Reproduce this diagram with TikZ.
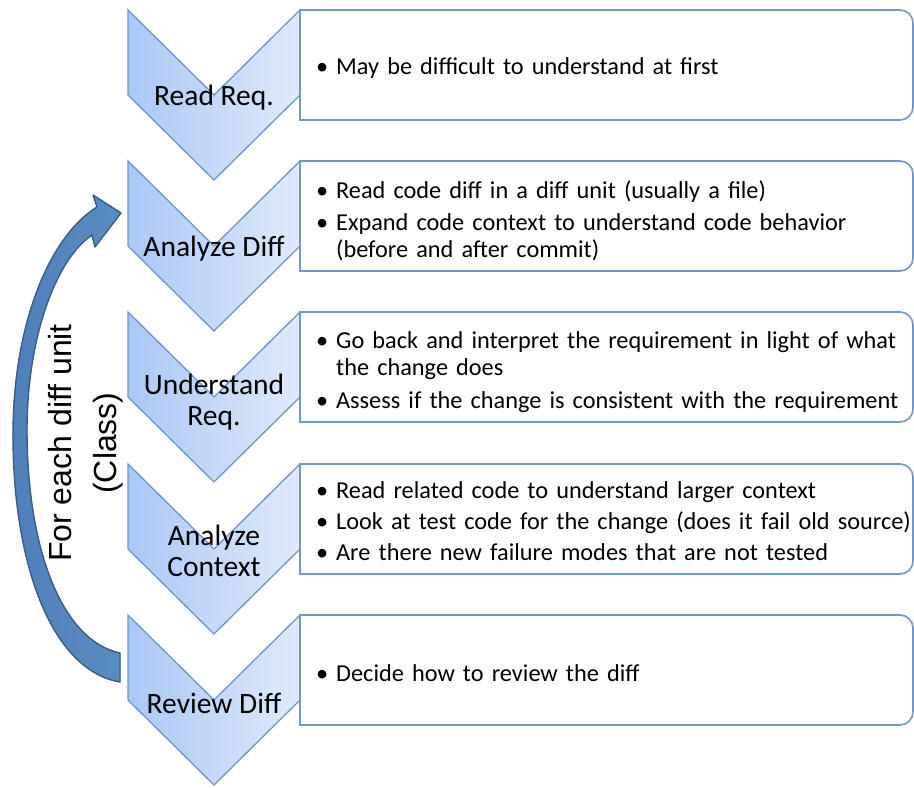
\documentclass[tikz,border=0pt]{standalone}
\usepackage{fontspec}
\setmainfont{Carlito}
\newfontfamily\arialfont{Liberation Sans}
\usetikzlibrary{calc}

\definecolor{chevL}{RGB}{170,199,245}
\definecolor{chevR}{RGB}{224,234,251}
\definecolor{chevEdge}{RGB}{108,150,205}
\definecolor{boxEdge}{RGB}{112,152,205}
\definecolor{loopFill}{RGB}{79,127,184}
\definecolor{loopFillL}{RGB}{90,140,196}
\definecolor{loopEdge}{RGB}{56,93,138}

% bullet line with hanging indent
\newcommand{\bul}[1]{\par\hangindent=20pt\hangafter=1\noindent\makebox[20pt][l]{\textbullet}#1\par}

\tikzset{
  chevshape/.style={draw=chevEdge, line width=1.3pt, line join=miter,
    left color=chevL, right color=chevR},
  chevlabel/.style={font=\fontsize{29.5}{31}\selectfont, align=center, inner sep=0pt},
  notebox/.style={draw=boxEdge, line width=1.6pt, fill=white},
  notetext/.style={anchor=west, inner sep=0pt, text width=640pt,
    font=\fontsize{24.3}{27.5}\selectfont},
  looplabel/.style={font=\arialfont\fontsize{32}{45}\selectfont, align=center,
    rotate=90, inner sep=0pt}
}

% one step: chevron + note box; #1 = top y, #2 = name
\newcommand{\stepchev}[2]{%
  \draw[chevshape] (128,#1) -- (214,#1+85) -- (300,#1) -- (300,#1+85)
     -- (214,#1+170) -- (128,#1+85) -- cycle;
  \draw[notebox] (300,#1) -- (900,#1) arc[start angle=-90,end angle=0,radius=13]
     -- (913,#1+97) arc[start angle=0,end angle=90,radius=13] -- (300,#1+110) -- cycle;
  \coordinate (#2) at (214,#1+88);
  \coordinate (#2box) at (316,#1+53);
}

\begin{document}
\begin{tikzpicture}[x=1pt,y=-1pt]
\useasboundingbox (0,0) rectangle (914,788);

\stepchev{10}{s1}
\stepchev{161}{s2}
\stepchev{312}{s3}
\stepchev{464}{s4}
\stepchev{615}{s5}

% step names
\node[chevlabel] (l1) at (s1) {Read Req.};
\node[chevlabel] (l2) at (s2) {Analyze Diff};
\node[chevlabel] (l3) at ($(s3)+(0,2)$) {Understand\\Req.};
\node[chevlabel] (l4) at ($(s4)+(0,-1)$) {Analyze\\Context};
\node[chevlabel] (l5) at (s5) {Review Diff};

% notes
\node[notetext] (n1) at (s1box) {\raggedright
  \bul{May be difficult to understand at first}};
\node[notetext] (n2) at (s2box) {\raggedright\parskip=4pt
  \bul{Read code diff in a diff unit (usually a file)}
  \bul{Expand code context to understand code behavior\newline(before and after commit)}};
\node[notetext] (n3) at ($(s3box)+(0,-1)$) {\raggedright\parskip=5pt
  \bul{Go back and interpret the requirement in light of what\newline the change does}
  \bul{Assess if the change is consistent with the requirement}};
\node[notetext] (n4) at ($(s4box)+(0,-3)$) {\raggedright\parskip=3.5pt
  \bul{Read related code to understand larger context}
  \bul{Look at test code for the change (does it fail old source)}
  \bul{Are there new failure modes that are not tested}};
\node[notetext] (n5) at (s5box) {\raggedright
  \bul{Decide how to review the diff}};

% loop-back arrow
\filldraw[draw=loopEdge, line width=1.4pt, line join=round,
          left color=loopFill, right color=loopFillL]
  (120,682) .. controls (50,670) and (12,560) .. (13,430)
  .. controls (14,322) and (50,236) .. (97,207)
  -- (93,195) -- (121,213) -- (95,247) -- (92,235)
  .. controls (55,260) and (27,340) .. (27,430)
  .. controls (27,545) and (60,640) .. (120,653) -- cycle;

\node[looplabel] (loop) at (86,443) {For each diff unit\\(Class)};
\end{tikzpicture}
\end{document}
